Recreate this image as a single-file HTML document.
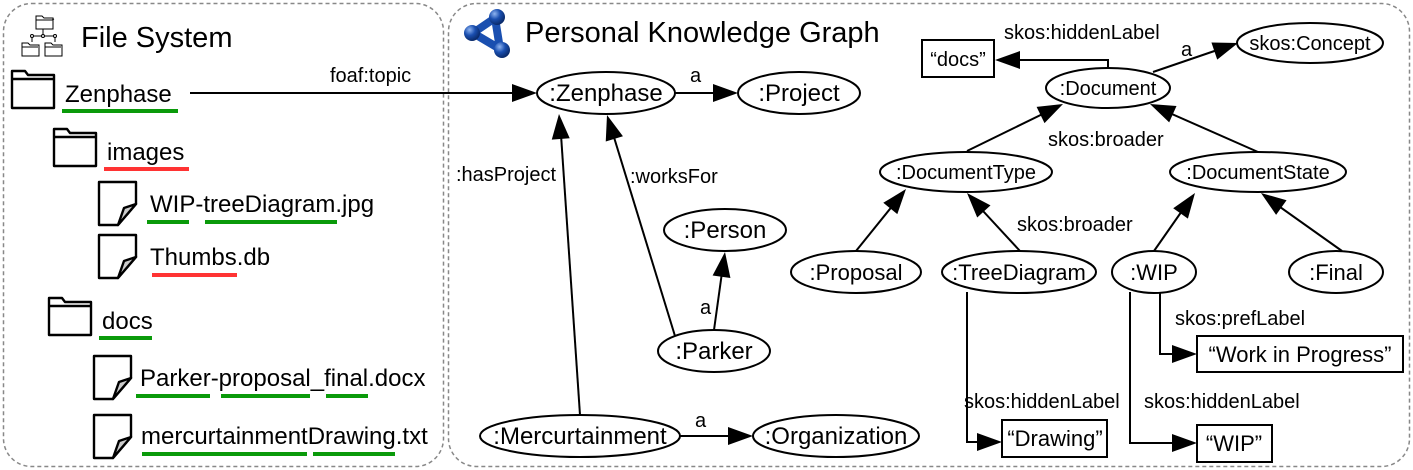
<!DOCTYPE html>
<html><head><meta charset="utf-8"><style>
html,body{margin:0;padding:0;background:#fff;}
svg{display:block;}
text{font-family:"Liberation Sans",sans-serif;fill:#000;}
</style></head><body>
<svg width="1413" height="470" viewBox="0 0 1413 470" xmlns="http://www.w3.org/2000/svg">
<defs>
<radialGradient id="bl" cx="0.35" cy="0.3" r="0.7"><stop offset="0" stop-color="#8fb4f0"/><stop offset="0.5" stop-color="#1a4fb0"/><stop offset="1" stop-color="#0a2a6a"/></radialGradient>
<path id="ah" d="M0,0 L-25,-9 L-25,9 Z" fill="#000"/>
</defs>
<rect x="3.5" y="3.5" width="440" height="463" rx="28" fill="none" stroke="#888" stroke-width="1.5" stroke-dasharray="4,3"/>
<rect x="448.5" y="3.5" width="961" height="463" rx="28" fill="none" stroke="#888" stroke-width="1.5" stroke-dasharray="4,3"/>

<g fill="none" stroke="#000" stroke-width="1">
<path d="M36,16 h6 l2,2 h9 v11 h-17 z M36,20 h16 l2,-1"/>
<path d="M43,29 v7 M32,36 h24 M32,36 v6 M55,36 v6"/>
<circle cx="43" cy="36" r="1.5" fill="#fff"/><circle cx="32" cy="36" r="1.5" fill="#fff"/><circle cx="55" cy="36" r="1.5" fill="#fff"/>
<path d="M22,43 h6 l2,2 h9 v11 h-17 z M22,47 h16"/>
<path d="M45,43 h6 l2,2 h9 v11 h-17 z M45,47 h16"/>
</g>
<text x="81" y="47" font-size="29">File System</text>

<g fill="#fff" stroke="#000" stroke-width="2.4" stroke-linejoin="round">
<path d="M12,71 h13 l3,4 h26 v33 h-42 z M12,79 h42"/>
<path d="M54,129 h13 l3,4 h26 v33 h-42 z M54,137 h42"/>
<path d="M49,298 h13 l3,4 h26 v33 h-42 z M49,306 h42"/>
</g>
<g stroke="#000" stroke-width="2.4" stroke-linejoin="round">
<g transform="translate(99,182)"><path d="M0,0 H37 V22 L19,43 H0 Z" fill="#fff"/><path d="M37,22 L25,26 L19,43 Z" fill="#ccc"/></g>
<g transform="translate(99,235)"><path d="M0,0 H37 V22 L19,43 H0 Z" fill="#fff"/><path d="M37,22 L25,26 L19,43 Z" fill="#ccc"/></g>
<g transform="translate(94,356)"><path d="M0,0 H37 V22 L19,43 H0 Z" fill="#fff"/><path d="M37,22 L25,26 L19,43 Z" fill="#ccc"/></g>
<g transform="translate(94,415)"><path d="M0,0 H37 V22 L19,43 H0 Z" fill="#fff"/><path d="M37,22 L25,26 L19,43 Z" fill="#ccc"/></g>
</g>
<g font-size="24">
<text x="65" y="102">Zenphase</text>
<text x="107" y="160">images</text>
<text x="150" y="212">WIP-treeDiagram.jpg</text>
<text x="150" y="265">Thumbs.db</text>
<text x="102" y="329">docs</text>
<text x="140" y="386">Parker-proposal_final.docx</text>
<text x="141" y="444">mercurtainmentDrawing.txt</text>
</g>
<g stroke-width="4" fill="none">
<path d="M62,111H178 M99,338H152 M147,222H189 M205,222H337 M136,396H210 M221,396H310 M326,396H368 M142,454H307 M313,454H395" stroke="#0a9a0a"/>
<path d="M104,169H189 M152,275H237" stroke="#f33"/>
</g>

<g>
<path d="M495,18 L473,33 L500,49 Z" fill="none" stroke="#1a4fb0" stroke-width="8" stroke-linejoin="round"/>
<circle cx="497" cy="17" r="8" fill="url(#bl)"/>
<circle cx="472" cy="33" r="8" fill="url(#bl)"/>
<circle cx="502" cy="50" r="8" fill="url(#bl)"/>
</g>
<text x="525" y="42" font-size="29">Personal Knowledge Graph</text>

<g stroke="#000" stroke-width="2" fill="none">
<path d="M190,93 H530"/>
<path d="M675,93 H732"/>
<path d="M580,415 L560,120"/>
<path d="M675,336 L609,121"/>
<path d="M714,330 L724,258"/>
<path d="M680,436 H747"/>
<path d="M1108,68 V60 H1000"/>
<path d="M1153,72 L1232,45"/>
<path d="M967,151 L1057,107"/>
<path d="M1258,152 L1156,107"/>
<path d="M856,251 L902,194"/>
<path d="M1020,251 L971,198"/>
<path d="M1154,251 L1191,198"/>
<path d="M1342,251 L1266,197"/>
<path d="M967,292 V442 H996"/>
<path d="M1130,292 V443 H1191"/>
<path d="M1160,292 V354 H1191"/>
</g>
<use href="#ah" transform="translate(537,93)"/>
<use href="#ah" transform="translate(738,93)"/>
<use href="#ah" transform="translate(559,114) rotate(-94)"/>
<use href="#ah" transform="translate(607,115) rotate(-107.1)"/>
<use href="#ah" transform="translate(725,252) rotate(-82)"/>
<use href="#ah" transform="translate(753,436)"/>
<use href="#ah" transform="translate(995,60) rotate(180)"/>
<use href="#ah" transform="translate(1238,43) rotate(-18.8)"/>
<use href="#ah" transform="translate(1063,104) rotate(-26.1)"/>
<use href="#ah" transform="translate(1150,104) rotate(-156)"/>
<use href="#ah" transform="translate(906,189) rotate(-51.1)"/>
<use href="#ah" transform="translate(967,193) rotate(-132.4)"/>
<use href="#ah" transform="translate(1195,193) rotate(-54.7)"/>
<use href="#ah" transform="translate(1261,193) rotate(-144.4)"/>
<use href="#ah" transform="translate(1002,442)"/>
<use href="#ah" transform="translate(1197,443)"/>
<use href="#ah" transform="translate(1197,354)"/>

<g fill="#fff" stroke="#000" stroke-width="2">
<ellipse cx="606" cy="93" rx="69" ry="21"/>
<ellipse cx="799" cy="93" rx="61" ry="21"/>
<ellipse cx="725" cy="230" rx="61" ry="21"/>
<ellipse cx="714" cy="351" rx="56" ry="21"/>
<ellipse cx="580" cy="436" rx="100" ry="21"/>
<ellipse cx="836" cy="436" rx="83" ry="21"/>
<ellipse cx="856" cy="272" rx="65" ry="21"/>
<ellipse cx="1108" cy="88" rx="62" ry="20"/>
<ellipse cx="1310" cy="43" rx="73" ry="20"/>
<ellipse cx="966" cy="172" rx="86" ry="20"/>
<ellipse cx="1258" cy="172" rx="88" ry="20"/>
<ellipse cx="1019" cy="272" rx="77" ry="21"/>
<ellipse cx="1154" cy="272" rx="42" ry="21"/>
<ellipse cx="1336" cy="272" rx="47" ry="21"/>
<rect x="922" y="40" width="72" height="37"/>
<rect x="1197" y="336" width="206" height="36"/>
<rect x="1002" y="420" width="105" height="37"/>
<rect x="1197" y="425" width="75" height="37"/>
</g>

<g font-size="24" text-anchor="middle">
<text x="606" y="101">:Zenphase</text>
<text x="799" y="101">:Project</text>
<text x="725" y="238">:Person</text>
<text x="714" y="359">:Parker</text>
<text x="580" y="444">:Mercurtainment</text>
<text x="836" y="444">:Organization</text>
</g>
<g font-size="22" text-anchor="middle">
<text x="856" y="280">:Proposal</text>
<text x="1019" y="280">:TreeDiagram</text>
<text x="1154" y="280">:WIP</text>
<text x="1336" y="280">:Final</text>
<text x="1300" y="362">“Work in Progress”</text>
<text x="1055" y="446">“Drawing”</text>
<text x="1234" y="451">“WIP”</text>
</g>
<g font-size="20" text-anchor="middle">
<text x="1108" y="95">:Document</text>
<text x="1310" y="50">skos:Concept</text>
<text x="966" y="179">:DocumentType</text>
<text x="1258" y="179">:DocumentState</text>
<text x="958" y="66">“docs”</text>
</g>
<g font-size="20">
<text x="330" y="82">foaf:topic</text>
<text x="690" y="82">a</text>
<text x="456" y="181">:hasProject</text>
<text x="630" y="183">:worksFor</text>
<text x="700" y="314">a</text>
<text x="695" y="427">a</text>
<text x="1004" y="39">skos:hiddenLabel</text>
<text x="1181" y="56">a</text>
<text x="1048" y="146">skos:broader</text>
<text x="1017" y="231">skos:broader</text>
<text x="1175" y="325">skos:prefLabel</text>
<text x="964" y="408">skos:hiddenLabel</text>
<text x="1144" y="408">skos:hiddenLabel</text>
</g>
</svg>
</body></html>
